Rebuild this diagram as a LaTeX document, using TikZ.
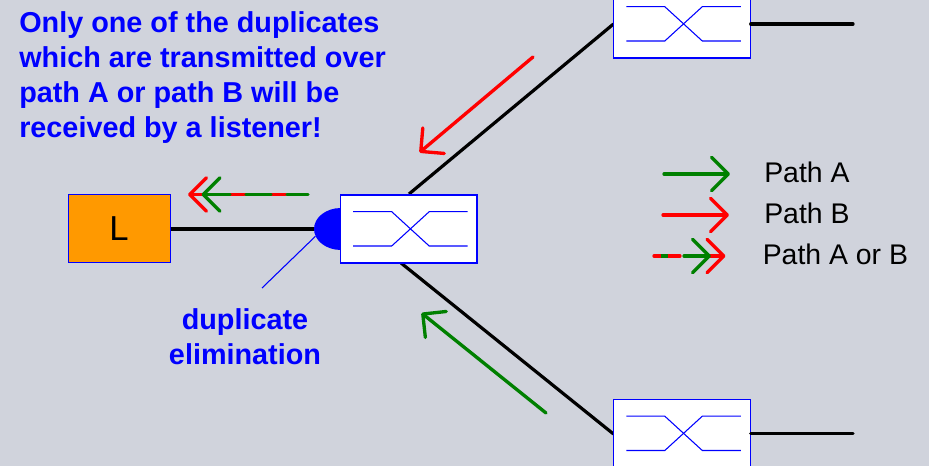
\documentclass[tikz,border=0pt]{standalone}
\usepackage{fontspec}
\setmainfont{Liberation Sans}
\usetikzlibrary{arrows.meta,shapes.geometric}
\definecolor{bgc}{RGB}{208,211,220}
\definecolor{pathg}{RGB}{0,128,0}
\definecolor{pathr}{RGB}{255,0,0}
\definecolor{wireblue}{RGB}{0,0,255}
\definecolor{lorange}{RGB}{255,153,0}
\tikzset{
  switchbox/.style={draw=wireblue,fill=white,line width=.85pt,minimum width=102.5pt,minimum height=51pt,inner sep=0pt},
  innerwire/.style={draw=wireblue,line width=.8pt},
  wire/.style={draw=black,line width=2.4pt},
  flow/.style={line width=2.5pt,line cap=round,line join=round,-{Straight Barb[length=12.5pt,width=25pt,round,line width=2.5pt]}},
  seg/.style={line width=2.5pt,line cap=round},
  bluetext/.style={text=wireblue,font=\fontsize{21.6}{26.25}\selectfont\bfseries,inner sep=0pt},
  legendtext/.style={text=black,font=\fontsize{21.3}{25}\selectfont,inner sep=0pt,anchor=base west},
  xover/.pic={
    \node[switchbox] (-box) at (0,0) {};
    \draw[innerwire] (-55.5,-17.3) -- (-17,-17.3) -- (20.5,17) -- (59,17);
    \draw[innerwire] (-55.5,17) -- (-17,17) -- (20.5,-17.3) -- (59,-17.3);
  }
}
\begin{document}
\begin{tikzpicture}[x=.75pt,y=-.75pt]
\clip (0,0) rectangle (929,466);
\fill[bgc] (0,0) rectangle (929,466);

% nodes
\node[ellipse,fill=wireblue,minimum width=40.5pt,minimum height=31.5pt,inner sep=0pt] (dome) at (341,229) {};
\coordinate (upA) at (409,194);
\coordinate (upB) at (401,263);
\draw[wire] (upA) -- (613.5,24) coordinate (topIn);
\draw[wire] (upB) -- (613.5,434) coordinate (botIn);
\pic (sw) at (408.7,229) {xover};
\pic (top) at (681.8,24) {xover};
\pic (bot) at (681.8,433.5) {xover};
\node[draw=wireblue,fill=lorange,line width=.75pt,minimum width=76.5pt,minimum height=51pt,inner sep=0pt,font=\fontsize{26}{30}\selectfont] (L) at (119,229) {L};

% connectors
\coordinate (stubT) at (853,24);
\coordinate (stubB) at (853,433.5);
\coordinate (leaderEnd) at (262,288);
\draw[wire] (L.east) -- (dome.west);
\draw[wire,line cap=round] (top-box.east) -- (stubT);
\draw[wire,line cap=round] (bot-box.east) -- (stubB);
\draw[draw=wireblue,line width=.8pt] (dome.196) -- (leaderEnd);

% path arrows
\coordinate (rs) at (533,57);
\coordinate (re) at (419.5,152.5);
\coordinate (gs) at (546,413);
\coordinate (ge) at (421.5,313);
\draw[flow,pathr] (rs) -- (re);
\draw[flow,pathg] (gs) -- (ge);

% combined arrow by the listener
\coordinate (ms) at (286,194.5);
\coordinate (me) at (188,194.5);
\coordinate (g1s) at (308,194.5);
\coordinate (g1e) at (287,194.5);
\coordinate (g2s) at (271,194.5);
\coordinate (g2e) at (246,194.5);
\coordinate (g3s) at (230,194.5);
\coordinate (g3e) at (201.5,194.5);
\draw[flow,pathr] (ms) -- (me);
\draw[seg,pathg] (g1s) -- (g1e);
\draw[seg,pathg] (g2s) -- (g2e);
\draw[flow,pathg] (g3s) -- (g3e);

% legend
\coordinate (a1) at (664,174);
\coordinate (a2) at (730,174);
\coordinate (b1) at (663,215);
\coordinate (b2) at (729,215);
\draw[flow,pathg] (a1) -- (a2);
\draw[flow,pathr] (b1) -- (b2);
\coordinate (c1) at (654,256);
\coordinate (c2) at (680,256);
\coordinate (c3) at (661,256);
\coordinate (c4) at (668,256);
\coordinate (c5) at (684,256);
\coordinate (c6) at (711,256);
\coordinate (c7) at (695,256);
\coordinate (c8) at (725.5,256);
\draw[seg,pathr] (c1) -- (c2);
\draw[line width=2.5pt,pathg] (c3) -- (c4);
\draw[flow,pathr] (c7) -- (c8);
\draw[flow,pathg] (c5) -- (c6);

% texts
\node[bluetext,align=left,anchor=north west] (note) at (19,11) {Only one of the duplicates\\which are transmitted over\\path A or path B will be\\received by a listener!};
\node[bluetext,align=center,anchor=north] (elim) at (245,308) {duplicate\\elimination};
\node[legendtext] (la) at (764,183) {Path A};
\node[legendtext] (lb) at (764,224) {Path B};
\node[legendtext] (lc) at (762.5,265) {Path A or B};
\end{tikzpicture}
\end{document}
